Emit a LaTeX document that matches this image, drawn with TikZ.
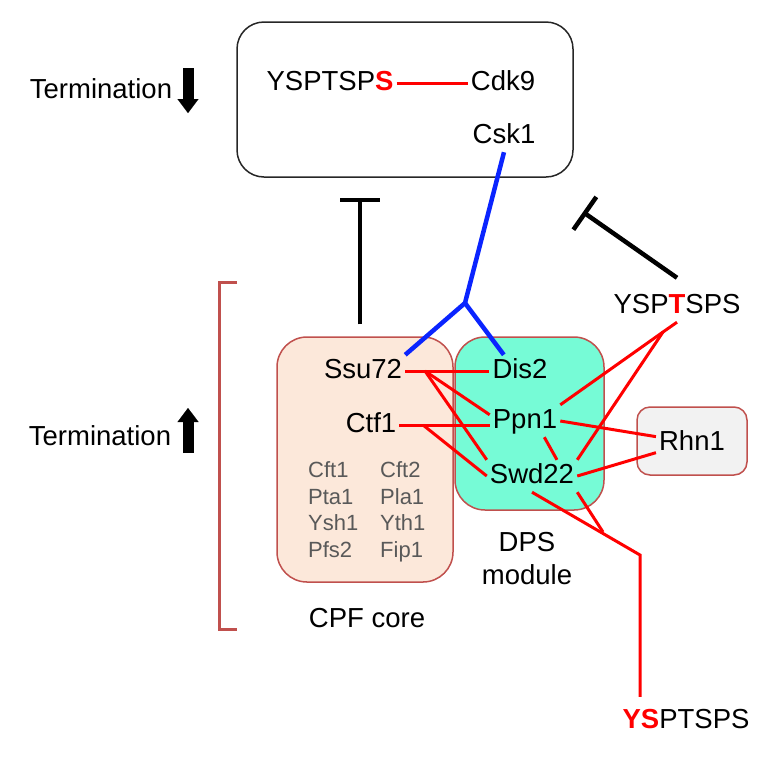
\documentclass[tikz,border=0pt]{standalone}
\usepackage{fontspec}
\setmainfont{Liberation Sans}
\usetikzlibrary{arrows.meta}

\definecolor{ctdred}{HTML}{FF0000}
\definecolor{ctdblue}{HTML}{0A24FF}
\definecolor{cpffill}{HTML}{FCE8DA}
\definecolor{dpsfill}{HTML}{76FBD6}
\definecolor{rhnfill}{HTML}{F2F2F2}
\definecolor{boxedge}{HTML}{C0504D}
\definecolor{subgray}{HTML}{595959}

\tikzset{
  protein/.style={font=\fontsize{27.5}{33}\selectfont, inner sep=3pt, text height=20pt, text depth=6pt},
  caption/.style={font=\fontsize{27.5}{33}\selectfont, align=center, inner sep=3pt},
  subunit/.style={font=\fontsize{22}{26}\selectfont, text=subgray, inner sep=0pt, anchor=west, text height=16pt, text depth=4.5pt},
  complexbox/.style={draw=boxedge, line width=1.5pt, rounded corners=30pt},
  redlink/.style={draw=ctdred, line width=3pt},
  bluelink/.style={draw=ctdblue, line width=4.5pt},
  inhibit/.style={draw=black, line width=4.5pt, -{Bar[width=40pt]}},
  bigarrow/.style={line width=11pt, -{Triangle[width=21pt,length=14pt,line width=0.1pt]}}
}

\begin{document}
\begin{tikzpicture}[x=1pt,y=-1pt]
 \useasboundingbox (0,0) rectangle (778,761);

 % CTD box oben
 \node[draw=black!85, line width=1.5pt, rounded corners=27pt, minimum width=336pt, minimum height=155pt] (topbox) at (405,99.5) {};
 \node[protein] (ser) at (330,83) {YSPTSP\textcolor{ctdred}{\textbf{S}}};
 \node[protein] (cdk) at (503,83) {Cdk9};
 \node[protein] (csk) at (504,136) {Csk1};
 \draw[redlink] (ser) -- (cdk);

 % Termination labels
 \node[protein] (termdown) at (101,91) {Termination};
 \node[protein] (termup) at (100,438) {Termination};
 \coordinate (dntop) at (188,68);
 \coordinate (dntip) at (188,113);
 \draw[bigarrow] (dntop) -- (dntip);
 \coordinate (upbot) at (188,453);
 \coordinate (uptip) at (188,408);
 \draw[bigarrow] (upbot) -- (uptip);

 % Klammer
 \draw[boxedge, line width=3pt] (237,282) -- (219,282) -- (219,629) -- (237,629);

 % complexes
 \node[complexbox, fill=cpffill, minimum width=176pt, minimum height=245pt] (cpf) at (365,459.5) {};
 \node[complexbox, fill=dpsfill, minimum width=149pt, minimum height=173pt] (dps) at (529.5,423.5) {};
 \node[complexbox, fill=rhnfill, rounded corners=13pt, minimum width=110pt, minimum height=68pt] (rhnbox) at (692,441) {};

 % proteins
 \node[protein] (ssu) at (363,371) {Ssu72};
 \node[protein] (ctf) at (371,425) {Ctf1};
 \node[protein] (dis) at (520,371) {Dis2};
 \node[protein] (ppn) at (525,421) {Ppn1};
 \node[protein] (swd) at (532,476) {Swd22};
 \node[protein] (rhn) at (692,443) {Rhn1};

 % CPF subunits
 \node[subunit] (cft1) at (308,472) {Cft1};
 \node[subunit] (cft2) at (380,472) {Cft2};
 \node[subunit] (pta1) at (308,498.5) {Pta1};
 \node[subunit] (pla1) at (380,498.5) {Pla1};
 \node[subunit] (ysh1) at (308,525) {Ysh1};
 \node[subunit] (yth1) at (380,525) {Yth1};
 \node[subunit] (pfs2) at (308,551.5) {Pfs2};
 \node[subunit] (fip1) at (380,551.5) {Fip1};

 \node[caption] (dpslabel) at (527,558.5) {DPS\\module};
 \node[caption] (cpflabel) at (367,618) {CPF core};

 % CTD repeats
 \node[protein] (tsps) at (677,306) {YSP\textcolor{ctdred}{\textbf{T}}SPS};
 \node[protein] (ysps) at (686,721) {\textcolor{ctdred}{\textbf{YS}}PTSPS};

 % Csk1 link
 \coordinate (cskfork) at (465,303);
 \draw[bluelink] (csk.south) -- (cskfork) -- (ssu.north east);
 \draw[bluelink] (cskfork) -- (dis.135);

 % inhibition
 \draw[inhibit] ([xshift=-5pt,yshift=12pt]cpf.north) -- ([xshift=-45pt,yshift=-20pt]topbox.south);
 \coordinate (tsbar) at (583,212);
 \draw[inhibit] ([yshift=12pt]tsps.north) -- (tsbar);

 % interactions
 \coordinate (ssufork) at (425,371);
 \coordinate (ctffork) at (423,425);
 \draw[redlink] (ssu.east) -- (dis.west);
 \draw[redlink] (ssufork) -- (ppn.170);
 \draw[redlink] (ssufork) -- (swd.north west);
 \draw[redlink] (ctf.east) -- (ctf.east -| ppn.west);
 \draw[redlink] (ctffork) -- (swd.west);
 \draw[redlink] (ppn.-40) -- (swd.33);
 \draw[redlink] (ppn.east) -- (rhn.170);
 \draw[redlink] (swd.east) -- (rhn.195);

 % Thr4
 \coordinate (thrfork) at (663,332);
 \draw[redlink] (tsps.south) -- (thrfork) -- (ppn.north east);
 \draw[redlink] (thrfork) -- (swd.north east);

 % Tyr1 / Ser2
 \coordinate (ykink) at (640,555);
 \coordinate (yjoin) at (603,532);
 \draw[redlink, shorten >=8pt] (swd.south) -- (ykink) -- (ykink |- ysps.north);
 \draw[redlink] (swd.south east) -- (yjoin);
\end{tikzpicture}
\end{document}
